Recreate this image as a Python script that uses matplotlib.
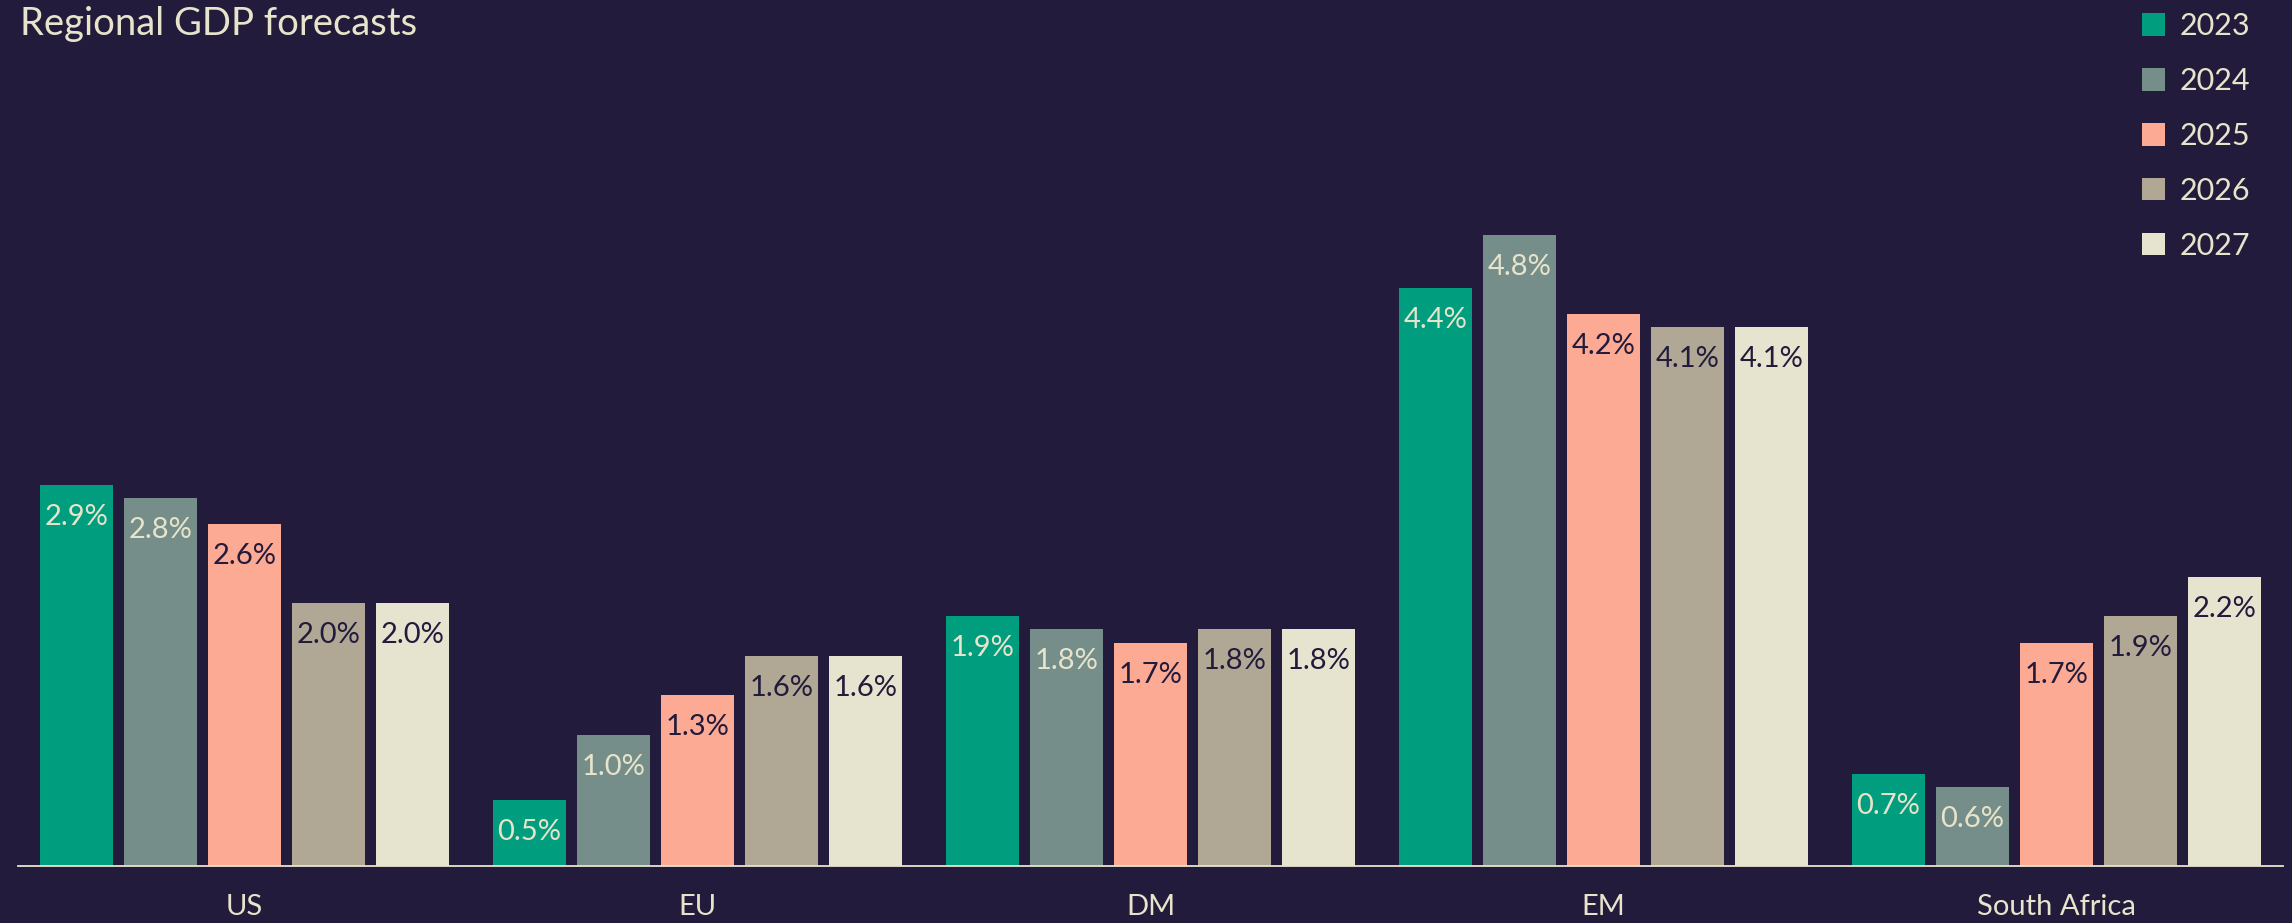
import matplotlib
matplotlib.use("Agg")
import matplotlib.pyplot as plt
import numpy as np

categories = ["US", "EU", "DM", "EM", "South Africa"]
years = ["2023", "2024", "2025", "2026", "2027"]
values = {
    "2023": [2.9, 0.5, 1.9, 4.4, 0.7],
    "2024": [2.8, 1.0, 1.8, 4.8, 0.6],
    "2025": [2.6, 1.3, 1.7, 4.2, 1.7],
    "2026": [2.0, 1.6, 1.8, 4.1, 1.9],
    "2027": [2.0, 1.6, 1.8, 4.1, 2.2],
}
colors = ["#009e7e", "#768e8a", "#fdaa94", "#b0a895", "#e6e3cf"]
label_colors = ["#e8e4cc", "#e8e4cc", "#221b3b", "#221b3b", "#221b3b"]

BG = "#221b3b"
CREAM = "#e8e4cc"
plt.rcParams['font.family'] = ['Lato', 'DejaVu Sans']

W, H = 2292, 923
fig = plt.figure(figsize=(W / 100, H / 100), dpi=100, facecolor=BG)
ax = fig.add_axes([18 / W, (H - 866) / H, (2283 - 18) / W, 866 / H])
ax.set_facecolor(BG)

x = np.arange(len(categories))
step = 84 / 453
width = 73 / 453
for i, y in enumerate(years):
    pos = x + (i - 2) * step
    bars = ax.bar(pos, values[y], width=width, color=colors[i], label=y, zorder=2)
    for b, v in zip(bars, values[y]):
        ax.annotate(f"{v:.1f}%", (b.get_x() + b.get_width() / 2, v),
                    xytext=(0, -23), textcoords="offset points",
                    ha="center", va="center", fontsize=21, color=label_colors[i])

ax.set_xlim(-0.5, 4.5)
ax.set_ylim(0, 866 / 131.4)
ax.set_xticks(x)
ax.set_xticklabels(categories, color=CREAM, fontsize=21)
ax.tick_params(axis="x", length=0, pad=20)
ax.set_yticks([])
for s in ["top", "right", "left"]:
    ax.spines[s].set_visible(False)
ax.spines["bottom"].set_color(CREAM)
ax.spines["bottom"].set_linewidth(1.3)

fig.text(20 / W, 1 - 24 / H, "Regional GDP forecasts", color=CREAM, fontsize=27.5,
         ha="left", va="center")

leg = fig.legend(loc="upper right", bbox_to_anchor=(1 - 30 / W, 1.0),
                 borderaxespad=0, frameon=False, fontsize=22,
                 handlelength=0.75, handleheight=0.75,
                 handletextpad=0.45, labelspacing=0.88, labelcolor=CREAM)

fig.savefig("out.png", dpi=100, facecolor=BG)
